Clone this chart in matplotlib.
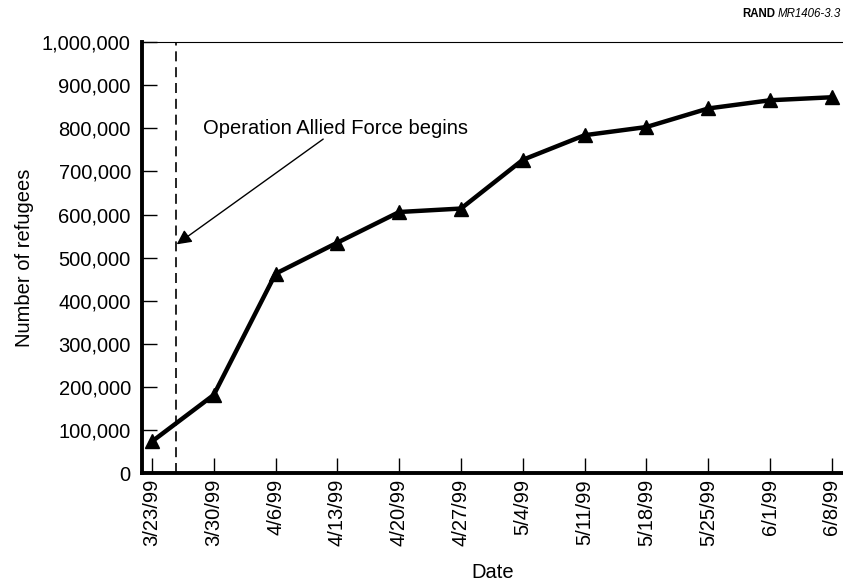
import matplotlib.pyplot as plt

dates = ['3/23/99', '3/30/99', '4/6/99', '4/13/99', '4/20/99', '4/27/99',
         '5/4/99', '5/11/99', '5/18/99', '5/25/99', '6/1/99', '6/8/99']
refugees = [74000, 182000, 463000, 535000, 606000, 614000,
            727000, 784000, 803000, 846000, 865000, 872000]
yticks = [0, 100000, 200000, 300000, 400000, 500000,
          600000, 700000, 800000, 900000, 1000000]

plt.rcParams['font.family'] = ['Liberation Sans', 'DejaVu Sans']
plt.rcParams.update({'font.size': 14.5})

fig = plt.figure(figsize=(8.43, 5.87), dpi=100)
ax = fig.add_axes([0.1684, 0.1935, 0.8316, 0.7349])

num = range(len(dates))
ax.plot(num, refugees, color='black', linewidth=3.2, marker='^', markersize=10)

# start of the air campaign
ax.axvline(0.39, color='black', linewidth=1.2, linestyle=(0, (6, 3.5)))
ax.annotate('', xy=(0.40, 531000), xytext=(2.77, 775000),
            arrowprops=dict(arrowstyle='-|>', color='black', lw=1,
                            mutation_scale=22, shrinkA=0, shrinkB=0))
ax.text(0.83, 800000, 'Operation Allied Force begins', ha='left', va='center')

ax.set_xlim(-0.162, 11.18)
ax.set_ylim(0, 1000000)
ax.set_xticks(list(num))
ax.set_xticklabels(dates, rotation=90)
ax.set_yticks(yticks)
ax.set_yticklabels(['{:,}'.format(v) for v in yticks])

ax.tick_params(axis='y', direction='in', length=11, width=1, pad=8)
ax.tick_params(axis='x', direction='in', length=11, width=1, pad=4)

ax.spines['left'].set_linewidth(2.8)
ax.spines['bottom'].set_linewidth(2.8)
ax.spines['top'].set_linewidth(0.8)
ax.spines['right'].set_visible(False)

ax.set_xlabel('Date', labelpad=12)
ax.set_ylabel('Number of refugees', labelpad=6)

# figure id in the top right corner
t2 = fig.text(0.998, 0.977, 'MR1406-3.3', fontsize=8.3, style='italic',
              ha='right', va='center')
fig.canvas.draw()
bb = t2.get_window_extent()
x0 = fig.transFigure.inverted().transform((bb.x0 - 3, 0))[0]
fig.text(x0, 0.977, 'RAND', fontsize=8.3, fontweight='bold', ha='right', va='center')

fig.savefig('out.png', dpi=100)
